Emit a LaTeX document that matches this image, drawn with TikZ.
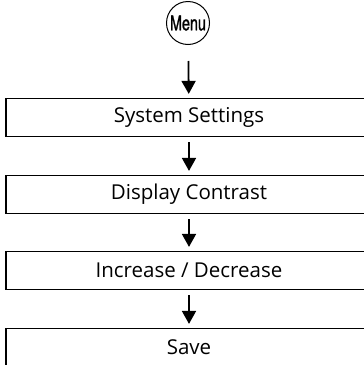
\documentclass[tikz,border=0pt]{standalone}
\usepackage{fontspec}
\setmainfont{Open Sans}
\newfontfamily\menufont[FakeStretch=0.7,FakeBold=1.2]{TeX Gyre Heros}
\usetikzlibrary{arrows.meta}
\tikzset{
  stepbox/.style={draw, line width=1.2pt, minimum width=366pt, minimum height=38pt, inner sep=0pt,
    font=\fontsize{20.5}{22}\selectfont},
  menunode/.style={draw, circle, line width=1pt, minimum size=43pt, inner sep=0pt,
    font=\menufont\fontsize{20.5}{21}\selectfont},
  arr/.style={line width=1.8pt, -{Triangle[width=14pt,length=13pt]}}
}
\begin{document}
\begin{tikzpicture}[x=1pt,y=-1pt]
\useasboundingbox (0,0) rectangle (364,365);
\clip (0,0) rectangle (364,365);
\node[menunode] (menu) at (188,23) {Menu};
\node[stepbox] (b1) at (189,117.5) {System Settings};
\node[stepbox] (b2) at (189,194.5) {Display Contrast};
\node[stepbox] (b3) at (189,270.5) {Increase / Decrease};
\node[stepbox] (b4) at (189,347.5) {Save};
\draw[arr, shorten <=16pt, shorten >=4pt] (menu) -- (b1);
\draw[arr, shorten <=5pt, shorten >=4pt] (b1) -- (b2);
\draw[arr, shorten <=5pt, shorten >=4pt] (b2) -- (b3);
\draw[arr, shorten <=5pt, shorten >=4pt] (b3) -- (b4);
\end{tikzpicture}
\end{document}
